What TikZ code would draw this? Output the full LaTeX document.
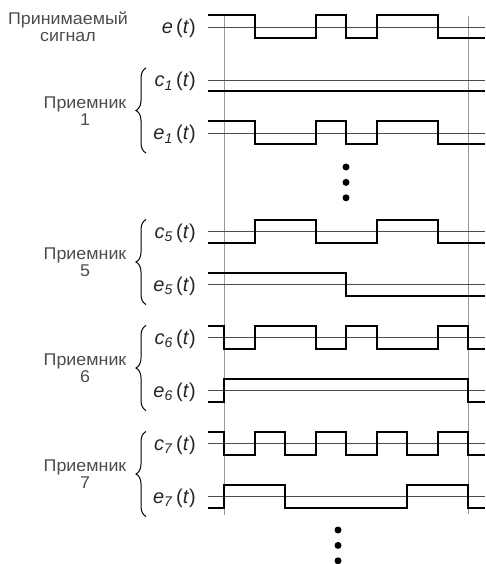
\documentclass[tikz,border=0pt]{standalone}
\usepackage{fontspec}
\setmainfont{Liberation Sans}
\newfontfamily\rxfont{Liberation Sans}[FakeStretch=1.05]
\usetikzlibrary{positioning, decorations.pathreplacing}
\newcommand{\sgn}[2]{\textit{#1}\textsubscript{\textit{#2}}\,(\textit{t})}

\begin{document}
\begin{tikzpicture}[x=1pt, y=-1pt,
    sig/.style={line width=2pt, line join=miter},
    baseln/.style={line width=0.7pt, black!70},
    tick/.style={line width=0.7pt, black!40},
    siglabel/.style={anchor=base east, inner sep=0pt, text=black!85, font=\fontsize{20}{20}\selectfont},
    rxlabel/.style={align=center, inner sep=0pt, text=black!70, font=\rxfont\fontsize{17}{17}\selectfont},
    brace/.style={decorate, decoration={brace, amplitude=10pt}, line width=1pt},
    dot/.style={circle, fill=black, inner sep=0pt, minimum size=7pt}
]
\useasboundingbox (0,0) rectangle (485,564);

% chip boundaries
\coordinate (t0top) at (224,16);
\coordinate (t0bot) at (224,515);
\coordinate (t8top) at (468,16);
\coordinate (t8bot) at (468,514);
\draw[tick] (t0top) -- (t0bot);
\draw[tick] (t8top) -- (t8bot);

% received signal
\node[rxlabel] (rxsig) at (68,27) {Принимаемый\\сигнал};
\node[siglabel] (lbl) at (196,34) {\textit{e}\,(\textit{t})};
\draw[baseln] (208,27) -- (485,27);

% receivers: labels, braces, base lines
\foreach \n/\b in {1/80, 5/231.5, 6/337.5, 7/443.5} {
  \node[siglabel] (c\n) at (196,{\b+7}) {\sgn{c}{\n}};
  \node[siglabel] (e\n) at (196,{\b+60}) {\sgn{e}{\n}};
  \node[rxlabel] (rx\n) at (85,{\b+31}) {Приемник\\\n};
  \draw[brace] (146,{\b+73}) -- (146,{\b-12});
  \draw[baseln] (208,\b) -- (485,\b);
  \draw[baseln] (208,{\b+53}) -- (485,{\b+53});
}

% e(t)
\begin{scope}[shift={(0,27)}]
  \draw[sig] (208,-11.5) -| (254.5,11.5) -| (315.5,-11.5) -| (346,11.5) -| (376.5,-11.5) -| (437.5,11.5) -- (485,11.5);
\end{scope}
% receiver 1
\begin{scope}[shift={(0,80)}]
  \draw[sig] (208,11.5) -- (485,11.5);
\end{scope}
\begin{scope}[shift={(0,133)}]
  \draw[sig] (208,-11.5) -| (254.5,11.5) -| (315.5,-11.5) -| (346,11.5) -| (376.5,-11.5) -| (437.5,11.5) -- (485,11.5);
\end{scope}
% receiver 5
\begin{scope}[shift={(0,231.5)}]
  \draw[sig] (208,11.5) -| (254.5,-11.5) -| (315.5,11.5) -| (376.5,-11.5) -| (437.5,11.5) -- (485,11.5);
\end{scope}
\begin{scope}[shift={(0,284.5)}]
  \draw[sig] (208,-11.5) -| (346,11.5) -- (485,11.5);
\end{scope}
% receiver 6
\begin{scope}[shift={(0,337.5)}]
  \draw[sig] (208,-11.5) -| (224,11.5) -| (254.5,-11.5) -| (315.5,11.5) -| (346,-11.5) -| (376.5,11.5) -| (437.5,-11.5) -| (468,11.5) -- (485,11.5);
\end{scope}
\begin{scope}[shift={(0,390.5)}]
  \draw[sig] (208,11.5) -| (224,-11.5) -| (468,11.5) -- (485,11.5);
\end{scope}
% receiver 7
\begin{scope}[shift={(0,443.5)}]
  \draw[sig] (208,-11.5) -| (224,11.5) -| (254.5,-11.5) -| (285,11.5) -| (315.5,-11.5) -| (346,11.5) -| (376.5,-11.5) -| (407,11.5) -| (437.5,-11.5) -| (468,11.5) -- (485,11.5);
\end{scope}
\begin{scope}[shift={(0,496.5)}]
  \draw[sig] (208,11.5) -| (224,-11.5) -| (285,11.5) -| (407,-11.5) -| (468,11.5) -- (485,11.5);
\end{scope}

% ellipsis dots
\node[dot] (d1) at (346,167) {};
\node[dot, below=8pt of d1] (d2) {};
\node[dot, below=8pt of d2] (d3) {};
\node[dot] (d4) at (338,530) {};
\node[dot, below=8pt of d4] (d5) {};
\node[dot, below=8pt of d5] (d6) {};
\end{tikzpicture}
\end{document}
